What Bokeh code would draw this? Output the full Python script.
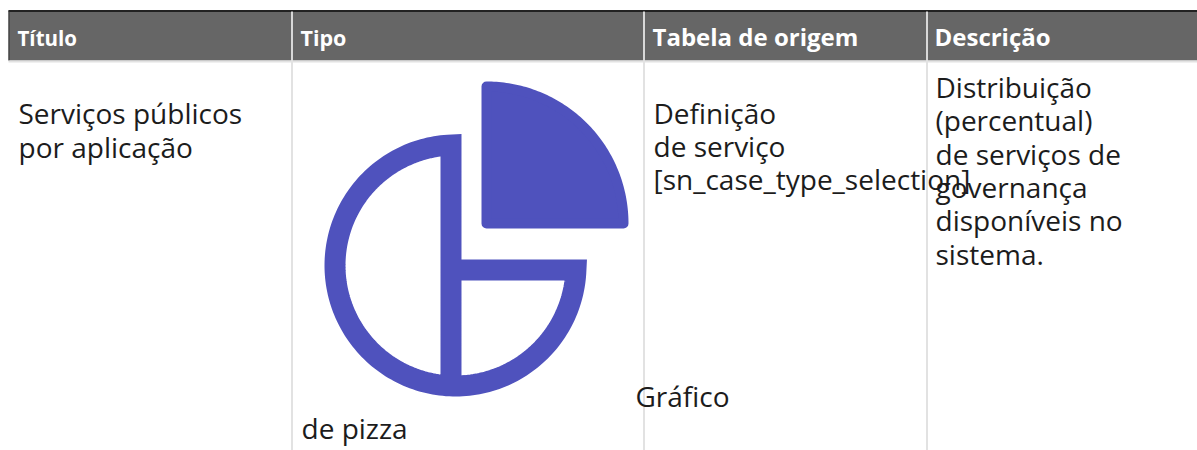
import numpy as np
from bokeh.plotting import figure
from bokeh.core.properties import value
from bokeh.embed import file_html
from bokeh.resources import INLINE

# table content
headers = ["Título", "Tipo", "Tabela de origem", "Descrição"]
title_lines = ["Serviços públicos", "por aplicação"]
type_lines = ["Gráfico", "de pizza"]
source_lines = ["Definição", "de serviço", "[sn_case_type_selection]"]
desc_lines = ["Distribuição", "(percentual)", "de serviços de", "governança", "disponíveis no", "sistema."]

# layout (page pixels)
W, H = 1197, 450
col_edges = [291.5, 643.5, 926.5]
header_x = [17, 300, 652, 934]
header_px = [20.5, 21.5, 24, 24]
BASE_SHIFT = 0.37   # drawn baseline sits this many font-sizes below the asked y
TABLE_L = 8
FONT = "Open Sans"
HEAD = "#666666"
GRID = "#e2e2e2"
INK = "#1c1c1c"
ICON = "#4f52bd"

p = figure(width=W, height=H, x_range=(0, W), y_range=(H, 0),
           output_backend="svg", toolbar_location=None, min_border=0,
           outline_line_color=None, background_fill_color="white")
p.axis.visible = False
p.grid.visible = False

# header band
p.quad(left=[TABLE_L], right=[W], top=[11], bottom=[60], fill_color=HEAD, line_color=None)
p.line([TABLE_L, W], [10.5, 10.5], line_color="#222222", line_width=2)
p.line([TABLE_L + .5, TABLE_L + .5], [10, 60], line_color="#333333", line_width=1)
p.line([TABLE_L, W], [61, 61], line_color=GRID, line_width=2)
for x in col_edges:
    p.line([x, x], [11, 60], line_color="white", line_width=1.5)
    p.line([x, x], [60, H], line_color=GRID, line_width=2)

for t_, x_, s_ in zip(headers, header_x, header_px):
    p.text(x=[x_], y=[45 - BASE_SHIFT * s_], text=[t_], text_font=value(FONT), text_font_style="bold",
           text_font_size=f"{s_}px", text_color="white", text_baseline="alphabetic")


def block(lines, xs, ys, size=28):
    p.text(x=xs, y=[y - BASE_SHIFT * size for y in ys], text=lines, text_font=value(FONT),
           text_font_size=f"{size}px", text_color=INK, text_baseline="alphabetic")


block(title_lines, [18, 18], [123, 157])
block(source_lines, [653] * 3, [123, 156, 189])
block(desc_lines, [935] * 6, [97, 130, 164, 197, 230, 264])
block(type_lines, [635, 301], [406, 438])

# icon: outlined pie, one stroke from the bottom of the stem, over the top, round to the bar
cx, cy, r = 455, 265, 120.5
sx, sy = 450.5, 269.5
a0 = np.arctan2(144.6 - cy, sx - cx)
a1 = np.arctan2(sy - cy, 575.4 - cx)
ang = np.linspace(a0, a1 - 2 * np.pi, 180)
ax = cx + r * np.cos(ang)
ay = cy + r * np.sin(ang)
p.line([sx] + list(ax) + [sx], [385] + list(ay) + [sy], line_color=ICON, line_width=21, line_join="miter")

# icon: detached quarter
qx, qy, qr = 486, 223, 137
t = np.linspace(-np.pi / 2, 0, 90)
p.patch([qx] + list(qx + qr * np.cos(t)), [qy] + list(qy + qr * np.sin(t)),
        fill_color=ICON, line_color=ICON, line_width=10, line_join="round")

open("out.html", "w").write(file_html(p, INLINE))
